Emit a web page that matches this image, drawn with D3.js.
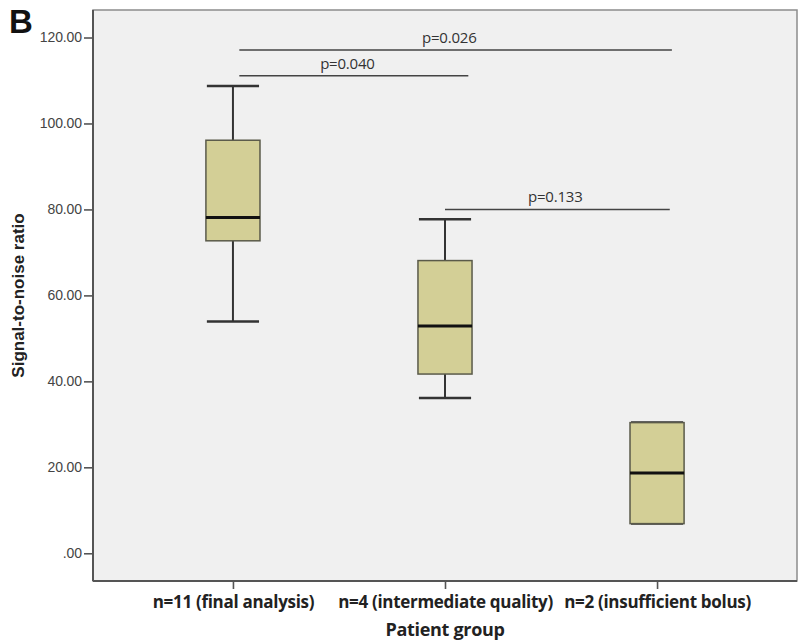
<!DOCTYPE html>
<html>
<head>
<meta charset="utf-8">
<script src="https://cdn.jsdelivr.net/npm/d3@7"></script>
<style>
  html, body { margin: 0; padding: 0; background: #fff; }
  svg { display: block; }
</style>
</head>
<body>
<svg id="chart" width="798" height="644"></svg>
<script>
// Box summaries
const groups = ['n=11 (final analysis)', 'n=4 (intermediate quality)', 'n=2 (insufficient bolus)'];
const whiskerLow = [53.9, 36.1, 6.9];
const q1 = [72.7, 41.7, 6.9];
const median = [78.1, 52.9, 18.7];
const q3 = [96.1, 68.1, 30.4];
const whiskerHigh = [108.7, 77.7, 30.4];

const yTicks = [0, 20, 40, 60, 80, 100, 120];

// Significance brackets (positions in group index units)
const pLabels = ['p=0.026', 'p=0.040', 'p=0.133'];
const bracketStart = [0.03, 0.03, 1.0];
const bracketEnd = [2.07, 1.11, 2.06];
const bracketLevel = [117.1, 111.1, 80.0];
const labelPos = [1.02, 0.54, 1.52];

const width = 798, height = 644;
const margin = {top: 10, right: 1, bottom: 63, left: 93};

const svg = d3.select('#chart');

const x = d3.scalePoint()
  .domain(groups)
  .range([margin.left, width - margin.right])
  .padding(0.66);

const xIdx = d3.scaleLinear()
  .domain([0, groups.length - 1])
  .range([x(groups[0]), x(groups[groups.length - 1])]);

const y = d3.scaleLinear()
  .domain([-6.45, 126.4])
  .range([height - margin.bottom, margin.top]);

const boxW = x.step() * 0.255;
const capW = x.step() * 0.123;

// Plot background
svg.append('rect')
  .attr('x', margin.left)
  .attr('y', margin.top)
  .attr('width', width - margin.right - margin.left)
  .attr('height', height - margin.bottom - margin.top)
  .attr('fill', '#f0f0f0')
  .attr('stroke', '#8c8c8c')
  .attr('stroke-width', 1.5);

// Panel letter
svg.append('text')
  .attr('x', 9)
  .attr('y', 33)
  .style('font', 'bold 33px "Liberation Sans", Arial, sans-serif')
  .attr('fill', '#111')
  .text('B');

// Y axis
const yAxis = svg.append('g')
  .attr('transform', `translate(${margin.left},0)`)
  .call(d3.axisLeft(y)
    .tickValues(yTicks)
    .tickSize(9)
    .tickPadding(2)
    .tickFormat(d => d === 0 ? '.00' : d3.format('.2f')(d)));
yAxis.select('.domain').attr('stroke', '#555').attr('stroke-width', 2)
  .attr('d', `M0,${margin.top}V${height - margin.bottom}`);
yAxis.selectAll('.tick line').attr('stroke', '#555').attr('stroke-width', 1.6);
yAxis.selectAll('.tick text')
  .attr('fill', '#444')
  .style('font', '14px "Liberation Sans", Arial, sans-serif')
  .style('letter-spacing', '-0.1px');

// X axis
const xAxis = svg.append('g')
  .attr('transform', `translate(0,${height - margin.bottom})`)
  .call(d3.axisBottom(x).tickSize(8).tickPadding(6));
xAxis.select('.domain').attr('stroke', '#555').attr('stroke-width', 2)
  .attr('d', `M${margin.left},0H${width - margin.right}`);
xAxis.selectAll('.tick line').attr('stroke', '#555').attr('stroke-width', 1.6);
xAxis.selectAll('.tick text')
  .attr('fill', '#222')
  .attr('dy', null)
  .attr('y', 27)
  .style('font', 'bold 17px "Open Sans", Lato, sans-serif')
  .style('letter-spacing', '-0.3px');

// Axis titles
svg.append('text')
  .attr('transform', `translate(24,${(margin.top + height - margin.bottom) / 2}) rotate(-90)`)
  .attr('text-anchor', 'middle')
  .attr('fill', '#222')
  .style('font', 'bold 17px "Liberation Sans", Arial, sans-serif')
  .text('Signal-to-noise ratio');

svg.append('text')
  .attr('x', (margin.left + width - margin.right) / 2)
  .attr('y', 636)
  .attr('text-anchor', 'middle')
  .attr('fill', '#222')
  .style('font', 'bold 18px "Open Sans", Lato, sans-serif')
  .style('letter-spacing', '-0.3px')
  .text('Patient group');

// Boxes
const boxes = svg.append('g')
  .selectAll('g')
  .data(groups)
  .join('g')
    .attr('transform', d => `translate(${x(d)},0)`);

boxes.append('line')
  .attr('y1', (d, i) => y(whiskerHigh[i]))
  .attr('y2', (d, i) => y(q3[i]))
  .attr('stroke', '#333').attr('stroke-width', 2);

boxes.append('line')
  .attr('y1', (d, i) => y(q1[i]))
  .attr('y2', (d, i) => y(whiskerLow[i]))
  .attr('stroke', '#333').attr('stroke-width', 2);

boxes.selectAll('.cap')
  .data((d, i) => [whiskerHigh[i], whiskerLow[i]])
  .join('line')
    .attr('class', 'cap')
    .attr('x1', -capW)
    .attr('x2', capW)
    .attr('y1', v => y(v))
    .attr('y2', v => y(v))
    .attr('stroke', '#333').attr('stroke-width', 2.5);

boxes.append('rect')
  .attr('x', -boxW / 2)
  .attr('width', boxW)
  .attr('y', (d, i) => y(q3[i]))
  .attr('height', (d, i) => y(q1[i]) - y(q3[i]))
  .attr('fill', '#d3cf96')
  .attr('stroke', '#5a5a4a')
  .attr('stroke-width', 1.5);

boxes.append('line')
  .attr('x1', -boxW / 2)
  .attr('x2', boxW / 2)
  .attr('y1', (d, i) => y(median[i]))
  .attr('y2', (d, i) => y(median[i]))
  .attr('stroke', '#111').attr('stroke-width', 3);

// Significance brackets
const brackets = svg.append('g')
  .selectAll('g')
  .data(pLabels)
  .join('g');

brackets.append('line')
  .attr('x1', (d, i) => xIdx(bracketStart[i]))
  .attr('x2', (d, i) => xIdx(bracketEnd[i]))
  .attr('y1', (d, i) => y(bracketLevel[i]))
  .attr('y2', (d, i) => y(bracketLevel[i]))
  .attr('stroke', '#444').attr('stroke-width', 1.6);

brackets.append('text')
  .attr('x', (d, i) => xIdx(labelPos[i]))
  .attr('y', (d, i) => y(bracketLevel[i]) - 7)
  .attr('text-anchor', 'middle')
  .attr('fill', '#333')
  .style('font', '15px "Open Sans", Lato, sans-serif')
  .style('letter-spacing', '-0.2px')
  .text(d => d);
</script>
</body>
</html>
